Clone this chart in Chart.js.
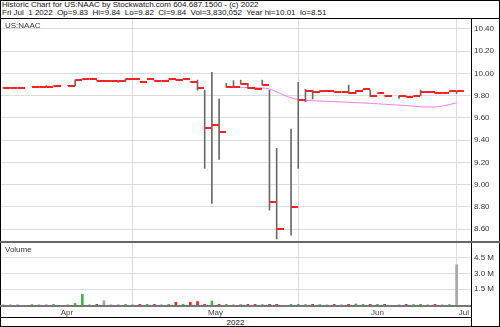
<!DOCTYPE html>
<html>
<head>
<meta charset="utf-8">
<script src="https://cdn.jsdelivr.net/npm/chart.js@4/dist/chart.umd.min.js"></script>
<style>
  body { margin: 0; background: #fff; font-family: 'Liberation Sans', Arial, sans-serif; }
  #wrap { position: relative; width: 500px; height: 327px; overflow: hidden; background: #fff; }
  .abs { position: absolute; }
  .hdr { left: 2px; font-size: 8px; line-height: 8px; white-space: pre; color: #111; }
  .lbl { font-size: 8px; color: #333; }
  .ln { position: absolute; background: #000; }
</style>
</head>
<body>
<div id="wrap">
  <div class="abs hdr" style="top:1px;">Historic Chart for US:NAAC by Stockwatch.com 604.687.1500 - (c) 2022</div>
  <div class="abs hdr" style="top:9px;">Fri Jul  1 2022  Op=9.83  Hi=9.84  Lo=9.82  Cl=9.84  Vol=3,830,052  Year hi=10.01  lo=8.51</div>

  <canvas id="priceChart" class="abs" style="left:0;top:19px;" width="500" height="222"></canvas>
  <canvas id="volChart" class="abs" style="left:0;top:242px;" width="500" height="75"></canvas>

  <div class="abs lbl" style="left:5px;top:21px;">US:NAAC</div>
  <div class="abs lbl" style="left:5px;top:245px;">Volume</div>
  <div class="abs lbl" style="left:0;width:471px;top:318px;text-align:center;color:#111;">2022</div>

  <!-- frame -->
  <div class="ln" style="left:0;top:0;width:500px;height:1px;"></div>
  <div class="ln" style="left:0;top:18px;width:500px;height:1px;"></div>
  <div class="ln" style="left:0;top:0;width:1px;height:327px;"></div>
  <div class="ln" style="left:499px;top:0;width:1px;height:327px;"></div>
  <div class="ln" style="left:0;top:326px;width:500px;height:1px;"></div>
  <div class="ln" style="left:471px;top:18px;width:1px;height:309px;"></div>
  <div class="ln" style="left:0;top:241px;width:500px;height:2px;background:#666;"></div>
  <div class="ln" style="left:0;top:305px;width:471px;height:2px;background:#777;"></div>
  <div class="ln" style="left:0;top:317px;width:471px;height:1px;"></div>
</div>

<script>
// trading weekdays shown on the chart (holidays / no-trade days have null values)
const dates = [
  '2022-04-05','2022-04-06','2022-04-07','2022-04-08','2022-04-11','2022-04-12','2022-04-13','2022-04-14','2022-04-15',
  '2022-04-18','2022-04-19','2022-04-20','2022-04-21','2022-04-22','2022-04-25','2022-04-26','2022-04-27','2022-04-28','2022-04-29',
  '2022-05-02','2022-05-03','2022-05-04','2022-05-05','2022-05-06','2022-05-09','2022-05-10','2022-05-11','2022-05-12','2022-05-13',
  '2022-05-16','2022-05-17','2022-05-18','2022-05-19','2022-05-20','2022-05-23','2022-05-24','2022-05-25','2022-05-26','2022-05-27',
  '2022-05-30','2022-05-31',
  '2022-06-01','2022-06-02','2022-06-03','2022-06-06','2022-06-07','2022-06-08','2022-06-09','2022-06-10','2022-06-13','2022-06-14',
  '2022-06-15','2022-06-16','2022-06-17','2022-06-20','2022-06-21','2022-06-22','2022-06-23','2022-06-24','2022-06-27','2022-06-28',
  '2022-06-29','2022-06-30','2022-07-01'
];

const highs = [9.87,9.87,9.87,null,9.88,9.88,9.89,9.89,null,9.89,9.94,9.95,9.95,9.935,9.935,9.935,9.935,9.95,9.95,9.925,
  9.95,9.935,9.935,9.95,9.94,9.95,9.925,9.94,9.85,10.01,9.77,9.91,9.935,9.94,9.91,9.857,9.94,9.85,9.326,null,
  9.50,9.92,9.857,9.85,9.845,9.845,9.83,9.83,9.895,9.845,9.857,9.85,9.82,9.797,null,9.797,9.797,9.797,9.85,9.83,
  9.82,9.82,9.84,9.84];
const lows = [9.87,9.87,9.87,null,9.88,9.88,9.88,9.89,null,9.89,9.89,9.95,9.95,9.935,9.935,9.935,9.92,9.925,9.95,9.925,
  9.95,9.935,9.935,9.95,9.94,9.95,9.925,9.85,9.146,8.83,9.227,9.875,9.875,9.905,9.865,9.857,9.895,8.77,8.51,null,
  8.545,9.146,9.745,9.77,9.845,9.845,9.83,9.83,9.82,9.82,9.857,9.79,9.82,9.797,null,9.775,9.79,9.797,9.80,9.83,
  9.82,9.82,9.84,9.82];
const closes = [9.87,9.87,9.87,null,9.88,9.88,9.88,9.89,null,9.89,9.94,9.95,9.95,9.935,9.935,9.935,9.935,9.95,9.95,9.925,
  9.95,9.935,9.935,9.95,9.94,9.95,9.925,9.865,9.51,9.535,9.475,9.875,9.875,9.905,9.865,9.857,9.895,8.845,8.60,null,
  8.80,9.76,9.845,9.835,9.845,9.845,9.83,9.83,9.82,9.845,9.857,9.797,9.82,9.797,null,9.797,9.79,9.797,9.83,9.83,
  9.82,9.82,9.84,9.84];
// magenta indicator line
const avgLine = [null,null,null,null,null,null,null,null,null,null,null,null,null,null,null,null,null,null,null,null,
  null,null,null,null,null,null,null,null,null,null,null,9.875,9.875,9.875,9.873,9.871,9.87,9.86,9.835,9.805,
  9.78,9.765,9.758,9.755,9.752,9.749,9.746,9.743,9.74,9.737,9.734,9.731,9.727,9.723,9.719,9.715,9.711,9.706,9.701,9.697,
  9.699,9.706,9.72,9.735];
const volumes = [30000,30000,30000,null,40000,30000,30000,60000,null,30000,150000,1020000,30000,60000,410000,30000,30000,60000,30000,60000,
  60000,60000,30000,60000,250000,60000,250000,330000,60000,380000,60000,60000,30000,40000,60000,60000,40000,60000,60000,null,
  60000,60000,40000,60000,40000,30000,60000,30000,60000,100000,60000,60000,60000,60000,null,30000,60000,40000,60000,30000,
  60000,30000,40000,3830052];

const priceTicks = [8.6,8.7,8.8,8.9,9.0,9.1,9.2,9.3,9.4,9.5,9.6,9.7,9.8,9.9,10.0,10.1,10.2,10.3,10.4];
const volTicks = [1500000,3000000,4500000];
const monthNames = ['Apr','May','Jun','Jul'];
const monthFirsts = ['2022-05-01','2022-06-01','2022-07-01'];

const X_MIN = -0.3, X_MAX = 65;
const gridColor = '#dcdcdc';
const FONT = "'Liberation Sans', Arial, sans-serif";

// month gridline sits on the last weekday on or before the 1st
const gridIdx = monthFirsts.map(d => {
  let k = 0;
  dates.forEach((dt, i) => { if (dt <= d) k = i; });
  return k;
});
const bounds = [X_MIN, ...gridIdx, X_MAX];
const labelPos = monthNames.map((m, i) => (bounds[i] + bounds[i + 1]) / 2);

// close tick: red dash to the right of the bar
function makeTick() {
  const c = document.createElement('canvas');
  c.width = 14; c.height = 2;
  const g = c.getContext('2d');
  g.fillStyle = '#ff2020';
  g.fillRect(7, 0, 7, 2);
  return c;
}

const hlData = [], closeData = [], avgData = [], volData = [], volColors = [];
let prev = null;
dates.forEach((d, i) => {
  if (closes[i] !== null) {
    hlData.push({ x: i, y: [lows[i], highs[i]] });
    closeData.push({ x: i, y: closes[i] });
  }
  if (avgLine[i] !== null) avgData.push({ x: i, y: avgLine[i] });
  if (volumes[i] !== null) {
    volData.push({ x: i, y: volumes[i] });
    let col = '#a8a8a8';
    if (prev !== null && closes[i] > prev) col = '#44b844';
    if (prev !== null && closes[i] < prev) col = '#ee2020';
    volColors.push(col);
  }
  if (closes[i] !== null) prev = closes[i];
});

function noPad(s) {
  s.paddingTop = 0; s.paddingBottom = 0; s.paddingLeft = 0; s.paddingRight = 0;
}

function gridAxis() {
  return {
    type: 'linear', min: X_MIN, max: X_MAX, position: 'bottom', offset: false,
    grid: { color: gridColor, lineWidth: 1, drawTicks: false, offset: false },
    border: { display: false },
    ticks: { display: false, padding: 0 },
    afterBuildTicks: s => { s.ticks = gridIdx.map(v => ({ value: v })); },
    afterFit: s => { s.height = 0; noPad(s); }
  };
}

function rightAxis(min, max, ticks, fmt) {
  return {
    position: 'right', min: min, max: max,
    grid: { color: gridColor, lineWidth: 1, drawTicks: false },
    border: { display: false },
    ticks: { color: '#333', font: { family: FONT, size: 8 }, padding: 3, callback: fmt },
    afterBuildTicks: s => { s.ticks = ticks.map(v => ({ value: v })); },
    afterFit: s => { s.width = 28; noPad(s); }
  };
}

new Chart(document.getElementById('priceChart'), {
  data: {
    datasets: [
      { type: 'line', data: avgData, borderColor: '#f47cf4', borderWidth: 1, pointRadius: 0, tension: 0.3, order: 3 },
      { type: 'bar', data: hlData, backgroundColor: '#6a6a6a', barThickness: 1, borderWidth: 0, order: 2 },
      { type: 'scatter', data: closeData, pointStyle: makeTick(), pointRadius: 3, order: 1 }
    ]
  },
  options: {
    responsive: false, animation: false, events: [],
    layout: { autoPadding: false, padding: { left: 1, right: 1, top: 0, bottom: 0 } },
    plugins: { legend: { display: false }, tooltip: { enabled: false } },
    scales: {
      x: gridAxis(),
      y: rightAxis(8.492, 10.49, priceTicks, v => v.toFixed(2))
    }
  }
});

new Chart(document.getElementById('volChart'), {
  data: {
    datasets: [
      { type: 'bar', data: volData, backgroundColor: volColors, barThickness: 2, borderWidth: 0 }
    ]
  },
  options: {
    responsive: false, animation: false, events: [],
    layout: { autoPadding: false, padding: { left: 1, right: 1, top: 0, bottom: 0 } },
    plugins: { legend: { display: false }, tooltip: { enabled: false } },
    scales: {
      x: gridAxis(),
      xl: {
        type: 'linear', min: X_MIN, max: X_MAX, position: 'bottom', offset: false,
        grid: { display: false, drawTicks: false },
        border: { display: false },
        ticks: {
          color: '#444', font: { family: FONT, size: 8 }, padding: 3, autoSkip: false, maxRotation: 0,
          callback: (v, i) => monthNames[i]
        },
        afterBuildTicks: s => { s.ticks = labelPos.map(v => ({ value: v })); },
        afterFit: s => { s.height = 12; noPad(s); }
      },
      y: rightAxis(0, 6000000, volTicks, v => (v / 1000000).toFixed(1) + ' M')
    }
  }
});
</script>
</body>
</html>
